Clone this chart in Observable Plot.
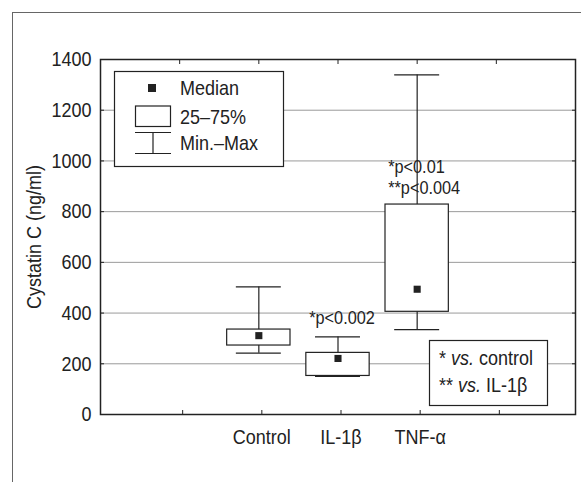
<!DOCTYPE html>
<html><head><meta charset="utf-8">
<script src="https://cdn.jsdelivr.net/npm/d3@7"></script>
<script src="https://cdn.jsdelivr.net/npm/@observablehq/plot@0.6"></script>
<style>
body{margin:0;background:#fff;}
#wrap{position:relative;width:581px;height:482px;overflow:hidden;}
#border{position:absolute;left:12px;top:12px;width:640px;height:540px;border-left:1px solid #666;border-top:1px solid #666;}
#chart{position:absolute;left:0;top:0;}
</style></head><body>
<div id="wrap"><div id="border"></div><div id="chart"></div></div>
<script>
const categories = ["Control", "IL-1β", "TNF-α"];
const minValues = [242, 150, 335];
const q1Values = [272, 152, 405];
const medianValues = [311, 221, 494];
const q3Values = [335, 243, 828];
const maxValues = [503, 306, 1339];
const yTicks = [0, 200, 400, 600, 800, 1000, 1200, 1400];
const gridValues = [200, 400, 600, 800, 1000, 1200];
const yLabel = "Cystatin C (ng/ml)";
const annotationIL = ["*p<0.002"];
const annotationTNF = ["*p<0.01", "**p<0.004"];
const legendLabels = ["Median", "25–75%", "Min.–Max"];
const noteLines = [["* ", "vs.", " control"], ["** ", "vs.", " IL-1β"]];

const FONT = '"Liberation Sans", Arial, sans-serif';
const FS = 21;
const CONDENSE = 0.857;
const pos = c => categories.indexOf(c) + 2;
const xTicks = [1, 2, 3, 4, 5];
const BOX = 0.4, CAP = 0.284;

const boxes = categories.map((c, i) => ({
  c, x: pos(c), min: minValues[i], q1: q1Values[i], med: medianValues[i], q3: q3Values[i], max: maxValues[i]
}));
const il = boxes.find(d => d.c === "IL-1β");
const tnf = boxes.find(d => d.c === "TNF-α");

const chart = Plot.plot({
  width: 581, height: 482,
  marginLeft: 100, marginRight: 6, marginTop: 59, marginBottom: 68,
  style: {fontFamily: FONT, fontSize: FS + "px", color: "#222", background: "transparent"},
  x: {domain: [0, 6]},
  y: {domain: [0, 1400]},
  marks: [
    Plot.ruleY(gridValues, {stroke: "#9a9a9a", strokeWidth: 1}),
    Plot.ruleX(boxes, {x: "x", y1: "min", y2: "max", stroke: "#222", strokeWidth: 1.2}),
    Plot.ruleY(boxes, {y: "max", x1: d => d.x - CAP, x2: d => d.x + CAP, stroke: "#222", strokeWidth: 1.2}),
    Plot.ruleY(boxes, {y: "min", x1: d => d.x - CAP, x2: d => d.x + CAP, stroke: "#222", strokeWidth: 1.2}),
    Plot.rect(boxes, {x1: d => d.x - BOX, x2: d => d.x + BOX, y1: "q1", y2: "q3", fill: "white", stroke: "#222", strokeWidth: 1.2}),
    Plot.dot(boxes, {x: "x", y: "med", symbol: "square", r: 4, fill: "#222", stroke: "none"}),
    Plot.text(annotationIL, {x: il.x, y: il.max, text: d => d, dy: -19, dx: 4, fontSize: 19, fill: "#222"}),
    Plot.text(annotationTNF, {x: tnf.x, y: tnf.q3, text: d => d, textAnchor: "start", fontSize: 19, fill: "#222",
      render: (index, scales, values, dims, context, next) => {
        const g = next(index, scales, values, dims, context);
        d3.select(g).selectAll("text")
          .attr("transform", (d, k) => `translate(${values.x[index[k]] - 29},${values.y[index[k]] - 32 + k * 21.7})`)
          .attr("x", null).attr("y", null);
        return g;
      }}),
    Plot.frame({stroke: "#222", strokeWidth: 1.5}),
    Plot.axisY({ticks: yTicks, tickSize: -4, tickPadding: 13, label: null, tickFormat: d => String(d)}),
    Plot.axisY({anchor: "right", ticks: yTicks, tickSize: -4, tickFormat: () => "", label: null}),
    Plot.axisX({anchor: "top", ticks: xTicks, tickSize: -4, tickFormat: () => "", label: null}),
    Plot.axisX({anchor: "bottom", ticks: xTicks, tickSize: -4, tickPadding: 19, dx: 3, label: null,
      tickFormat: d => categories[d - 2] ?? ""}),
    Plot.text([yLabel], {frameAnchor: "left", textAnchor: "middle", dx: -66, rotate: -90, text: d => d, fontSize: FS, fill: "#222"})
  ]
});
document.getElementById("chart").append(chart);

const svg = d3.select(chart);
function condense(el) {
  const L = el.getComputedTextLength();
  if (L > 0) {
    el.setAttribute("textLength", (L * CONDENSE).toFixed(1));
    el.setAttribute("lengthAdjust", "spacingAndGlyphs");
  }
}
// Condense all Plot text horizontally to mimic a narrow typeface
svg.selectAll("text").each(function () { condense(this); });

// Legend: symbols
const g1 = svg.append("g").attr("font-family", FONT).attr("font-size", FS).attr("fill", "#222").attr("text-anchor", "start");
g1.append("rect").attr("x", 114.5).attr("y", 71.5).attr("width", 169).attr("height", 95)
  .attr("fill", "white").attr("stroke", "#222").attr("stroke-width", 1.2);
g1.append("rect").attr("x", 148).attr("y", 84).attr("width", 8).attr("height", 8).attr("fill", "#222");
g1.append("rect").attr("x", 135.5).attr("y", 106).attr("width", 35).attr("height", 20.5)
  .attr("fill", "white").attr("stroke", "#222").attr("stroke-width", 1.2);
g1.append("path").attr("d", "M135,132.5H171M135,153.5H171M153,132.5V153.5").attr("stroke", "#222").attr("stroke-width", 1.2).attr("fill", "none");
[88, 117, 143].forEach((y, i) => {
  const t = g1.append("text").attr("x", 180).attr("y", y).attr("dy", "0.35em").text(legendLabels[i]);
  condense(t.node());
});

// Legend: significance note (one text per line, condensed via a horizontal scale)
const g2 = svg.append("g").attr("font-family", FONT).attr("font-size", FS).attr("fill", "#222").attr("text-anchor", "start");
g2.append("rect").attr("x", 429.5).attr("y", 340.5).attr("width", 118).attr("height", 65)
  .attr("fill", "white").attr("stroke", "#222").attr("stroke-width", 1.2);
const g2t = g2.append("g").attr("transform", `translate(439,0) scale(${CONDENSE},1)`);
[358, 385].forEach((y, i) => {
  const t = g2t.append("text").attr("x", 0).attr("y", y).attr("dy", "0.35em").style("white-space", "pre");
  noteLines[i].forEach((s, j) => {
    t.append("tspan").attr("font-style", j === 1 ? "italic" : "normal").text(s);
  });
});
</script>
</body></html>
